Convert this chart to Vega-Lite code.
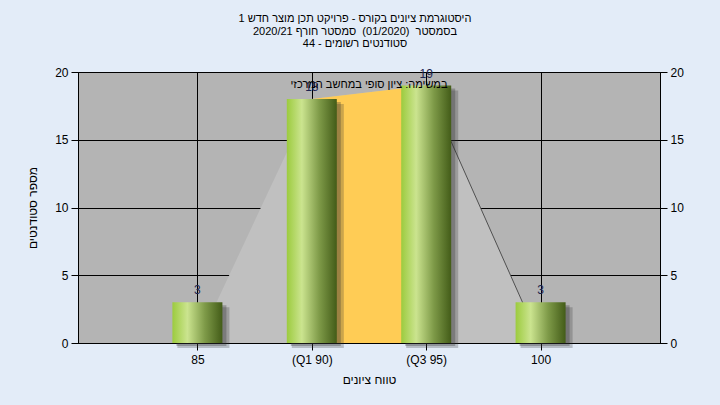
{
  "$schema": "https://vega.github.io/schema/vega-lite/v6.json",
  "width": 582,
  "height": 271,
  "autosize": {"type": "none"},
  "padding": {"left": 78, "top": 72, "right": 60, "bottom": 62},
  "background": "#e3ecf8",
  "title": {
    "text": ["היסטוגרמת ציונים בקורס - פרויקט תכן מוצר חדש 1", "בסמסטר \u00a0(01/2020) \u00a0סמסטר חורף 2020/21", "סטודנטים רשומים - 44"],
    "font": "Liberation Sans",
    "fontSize": 11,
    "fontWeight": "normal",
    "color": "#000000",
    "lineHeight": 12.5,
    "anchor": "middle",
    "frame": "bounds",
    "offset": 17
  },
  "datasets": {
    "bars": [
      {"grade": 85, "count": 3},
      {"grade": 90, "count": 18},
      {"grade": 95, "count": 19},
      {"grade": 100, "count": 3}
    ],
    "curve": [
      {"grade": 85, "count": 0},
      {"grade": 90, "count": 18},
      {"grade": 95, "count": 19},
      {"grade": 100, "count": 0}
    ],
    "iqr": [
      {"grade": 90, "count": 18},
      {"grade": 95, "count": 19}
    ],
    "tail": [
      {"grade": 95, "count": 19},
      {"grade": 100, "count": 0}
    ],
    "note": [
      {"grade": 92.5, "count": 20, "text": "במשימה: ציון סופי במחשב המרכזי"}
    ]
  },
  "encoding": {
    "x": {"field": "grade", "type": "quantitative",
      "scale": {"domain": [80, 105], "nice": false, "zero": false},
      "axis": {"values": [85, 90, 95, 100], "grid": true, "title": "טווח ציונים",
        "labelExpr": "datum.value == 90 ? '(Q1 90)' : datum.value == 95 ? '(Q3 95)' : datum.label",
        "labelPadding": 4, "titlePadding": 9}}
  },
  "resolve": {"axis": {"y": "independent"}},
  "layer": [
    {
      "data": {"name": "curve"},
      "mark": {"type": "area", "fill": "#c0c0c0", "opacity": 1},
      "encoding": {
        "y": {"field": "count", "type": "quantitative",
          "scale": {"domain": [0, 20], "nice": false},
          "axis": {"values": [0, 5, 10, 15, 20], "grid": true, "orient": "left", "title": "מספר סטודנטים",
            "labelPadding": 3, "titlePadding": 15}}
      }
    },
    {
      "data": {"name": "iqr"},
      "mark": {"type": "area", "fill": "#ffcc55", "opacity": 1},
      "encoding": {
        "y": {"field": "count", "type": "quantitative", "scale": {"domain": [0, 20], "nice": false}, "axis": null}
      }
    },
    {
      "data": {"name": "tail"},
      "mark": {"type": "line", "stroke": "#505050", "strokeWidth": 1},
      "encoding": {
        "y": {"field": "count", "type": "quantitative", "scale": {"domain": [0, 20], "nice": false}, "axis": null}
      }
    },
    {
      "data": {"name": "bars"},
      "mark": {"type": "bar", "size": 52, "fill": "#303030", "opacity": 0.25, "xOffset": 6, "yOffset": 5, "clip": false},
      "encoding": {
        "y": {"field": "count", "type": "quantitative", "scale": {"domain": [0, 20], "nice": false},
          "axis": {"values": [0, 5, 10, 15, 20], "grid": false, "orient": "right", "title": null, "labelPadding": 3}}
      }
    },
    {
      "data": {"name": "bars"},
      "mark": {"type": "bar", "size": 50, "fill": "#303030", "opacity": 0.3, "xOffset": 4, "yOffset": 3, "clip": false},
      "encoding": {
        "y": {"field": "count", "type": "quantitative", "scale": {"domain": [0, 20], "nice": false}, "axis": null}
      }
    },
    {
      "data": {"name": "bars"},
      "mark": {"type": "bar", "size": 50, "fill": {
        "gradient": "linear", "x1": 0, "y1": 0, "x2": 1, "y2": 0,
        "stops": [
          {"offset": 0, "color": "#9ccb3e"},
          {"offset": 0.3, "color": "#cbe48f"},
          {"offset": 0.65, "color": "#7e9a48"},
          {"offset": 1, "color": "#435c18"}
        ]}},
      "encoding": {
        "y": {"field": "count", "type": "quantitative", "scale": {"domain": [0, 20], "nice": false}, "axis": null}
      }
    },
    {
      "data": {"name": "bars"},
      "mark": {"type": "text", "font": "Liberation Sans", "fontSize": 12, "color": "#1c2450", "baseline": "alphabetic", "dy": -8},
      "encoding": {
        "y": {"field": "count", "type": "quantitative", "scale": {"domain": [0, 20], "nice": false}, "axis": null},
        "text": {"field": "count"}
      }
    },
    {
      "data": {"name": "note"},
      "mark": {"type": "text", "font": "Liberation Sans", "fontSize": 11, "color": "#000000", "baseline": "middle", "dy": 13},
      "encoding": {
        "y": {"field": "count", "type": "quantitative", "scale": {"domain": [0, 20], "nice": false}, "axis": null},
        "text": {"field": "text"}
      }
    }
  ],
  "config": {
    "view": {"fill": "#b4b4b4", "stroke": "#000000", "strokeWidth": 1},
    "axis": {
      "labelFont": "Liberation Sans", "labelFontSize": 12, "labelColor": "#000000",
      "titleFont": "Liberation Sans", "titleFontSize": 12, "titleFontWeight": "normal", "titleColor": "#000000",
      "tickColor": "#000000", "tickSize": 7, "domainColor": "#000000",
      "gridColor": "#000000", "gridOpacity": 1, "gridWidth": 1
    }
  }
}
